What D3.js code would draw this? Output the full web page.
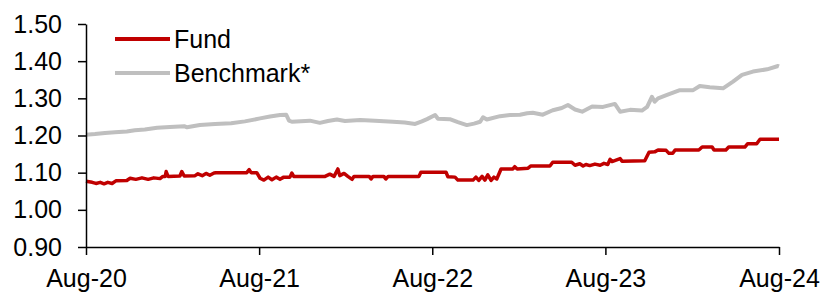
<!DOCTYPE html>
<html>
<head>
<meta charset="utf-8">
<title>Fund vs Benchmark</title>
<script src="https://cdn.jsdelivr.net/npm/d3@7"></script>
<style>
  body { margin: 0; background: #fff; }
  svg text { font-family: "Liberation Sans", Arial, sans-serif; fill: #000; }
</style>
</head>
<body>
<div id="chart"></div>
<script>
// series
var fundDates = ["2020-08-31","2020-09-13","2020-09-21","2020-09-30","2020-10-08","2020-10-16","2020-10-25","2020-11-02","2020-11-25","2020-12-02","2020-12-14","2020-12-27","2021-01-09","2021-01-21","2021-02-03","2021-02-09","2021-02-14","2021-02-16","2021-02-20","2021-03-17","2021-03-21","2021-03-26","2021-04-18","2021-04-24","2021-05-03","2021-05-11","2021-05-19","2021-05-28","2021-06-01","2021-08-05","2021-08-10","2021-08-14","2021-08-26","2021-09-02","2021-09-10","2021-09-19","2021-09-27","2021-10-06","2021-10-14","2021-10-22","2021-11-04","2021-11-08","2021-11-12","2022-01-17","2022-01-27","2022-02-05","2022-02-13","2022-02-17","2022-02-26","2022-03-06","2022-03-15","2022-03-19","2022-04-20","2022-04-24","2022-04-28","2022-05-21","2022-05-25","2022-05-30","2022-08-03","2022-08-07","2022-09-29","2022-10-03","2022-10-18","2022-10-24","2022-11-25","2022-12-01","2022-12-07","2022-12-14","2022-12-20","2022-12-26","2023-01-02","2023-01-08","2023-01-14","2023-01-23","2023-02-17","2023-02-21","2023-02-26","2023-03-21","2023-03-27","2023-05-06","2023-05-12","2023-06-21","2023-06-28","2023-07-08","2023-07-15","2023-07-21","2023-07-29","2023-08-09","2023-08-20","2023-08-28","2023-09-05","2023-09-10","2023-09-14","2023-10-01","2023-10-05","2023-11-22","2023-12-01","2023-12-13","2023-12-20","2024-01-06","2024-01-12","2024-01-20","2024-01-25","2024-03-15","2024-03-22","2024-04-12","2024-04-16","2024-05-11","2024-05-17","2024-06-20","2024-06-26","2024-07-15","2024-07-22","2024-08-31"];
var fundValues = [1.077,1.074,1.071,1.074,1.070,1.074,1.071,1.078,1.079,1.085,1.082,1.086,1.082,1.086,1.084,1.090,1.090,1.103,1.090,1.091,1.103,1.091,1.092,1.097,1.092,1.098,1.093,1.099,1.100,1.100,1.108,1.100,1.100,1.085,1.080,1.088,1.081,1.088,1.082,1.088,1.088,1.099,1.090,1.090,1.096,1.090,1.110,1.092,1.098,1.090,1.082,1.090,1.090,1.083,1.090,1.090,1.083,1.090,1.090,1.101,1.101,1.089,1.088,1.080,1.080,1.088,1.079,1.090,1.080,1.094,1.079,1.088,1.083,1.110,1.110,1.116,1.110,1.112,1.118,1.118,1.128,1.128,1.120,1.124,1.118,1.122,1.119,1.123,1.120,1.125,1.122,1.136,1.130,1.138,1.131,1.132,1.155,1.156,1.161,1.160,1.152,1.152,1.161,1.161,1.169,1.169,1.161,1.161,1.169,1.169,1.178,1.178,1.190,1.190];

var benchDates = ["2020-08-31","2020-09-19","2020-10-10","2020-10-31","2020-11-25","2020-12-12","2021-01-02","2021-01-28","2021-02-24","2021-03-26","2021-04-01","2021-04-28","2021-05-30","2021-07-03","2021-08-01","2021-09-02","2021-09-23","2021-10-14","2021-10-27","2021-11-02","2021-11-08","2021-12-16","2022-01-06","2022-01-23","2022-02-11","2022-02-28","2022-04-01","2022-05-02","2022-06-09","2022-07-04","2022-07-26","2022-08-09","2022-08-20","2022-09-06","2022-09-12","2022-10-07","2022-10-24","2022-11-12","2022-11-27","2022-12-10","2022-12-16","2022-12-24","2023-01-21","2023-02-11","2023-03-04","2023-03-19","2023-03-31","2023-04-21","2023-05-12","2023-05-31","2023-06-13","2023-06-28","2023-07-13","2023-08-03","2023-08-26","2023-09-20","2023-10-01","2023-10-22","2023-11-16","2023-11-27","2023-12-07","2023-12-13","2023-12-20","2024-01-08","2024-02-04","2024-03-03","2024-03-17","2024-04-07","2024-05-05","2024-05-26","2024-06-14","2024-07-07","2024-08-06","2024-08-29","2024-08-31"];
var benchValues = [1.202,1.204,1.207,1.209,1.211,1.214,1.216,1.221,1.223,1.225,1.222,1.228,1.231,1.233,1.238,1.246,1.251,1.255,1.256,1.240,1.237,1.240,1.234,1.239,1.243,1.239,1.242,1.240,1.237,1.235,1.231,1.238,1.244,1.255,1.245,1.244,1.236,1.228,1.232,1.237,1.249,1.243,1.252,1.255,1.256,1.260,1.261,1.256,1.268,1.274,1.282,1.270,1.264,1.278,1.277,1.285,1.264,1.269,1.267,1.277,1.304,1.291,1.300,1.309,1.322,1.322,1.333,1.330,1.327,1.345,1.363,1.372,1.378,1.387,1.386];

var yTicks = [0.90, 1.00, 1.10, 1.20, 1.30, 1.40, 1.50];
var xTickDates = ["2020-08-31","2021-08-31","2022-08-31","2023-08-31","2024-08-31"];
var seriesNames = ["Fund", "Benchmark*"];
var seriesColors = ["#c00000", "#bfbfbf"];

var width = 825, height = 292;
var margin = {top: 24, right: 46, bottom: 45, left: 86};

var parse = d3.timeParse("%Y-%m-%d");

var svg = d3.select("#chart").append("svg")
    .attr("width", width)
    .attr("height", height);

var x = d3.scaleTime()
    .domain([parse(xTickDates[0]), parse(xTickDates[xTickDates.length - 1])])
    .range([margin.left, width - margin.right]);

var y = d3.scaleLinear()
    .domain([0.9, 1.5])
    .range([height - margin.bottom, margin.top]);

var line = d3.line()
    .x(function (d) { return x(d.date); })
    .y(function (d) { return y(d.value); });

function zip(dates, values) {
  return dates.map(function (s, i) { return {date: parse(s), value: values[i]}; });
}

var series = [zip(fundDates, fundValues), zip(benchDates, benchValues)];

// grey first so the red sits on top
[1, 0].forEach(function (i) {
  svg.append("path")
      .datum(series[i])
      .attr("fill", "none")
      .attr("stroke", seriesColors[i])
      .attr("stroke-width", i === 0 ? 3.5 : 4)
      .attr("stroke-linejoin", "round")
      .attr("d", line);
});

// axes
var yAxis = svg.append("g")
    .attr("transform", "translate(" + margin.left + ",0)")
    .call(d3.axisLeft(y).tickValues(yTicks).tickFormat(d3.format(".2f"))
      .tickSize(8).tickPadding(16).tickSizeOuter(0));

var xAxis = svg.append("g")
    .attr("transform", "translate(0," + (height - margin.bottom) + ")")
    .call(d3.axisBottom(x).tickValues(xTickDates.map(parse))
      .tickFormat(d3.timeFormat("%b-%y")).tickSize(8).tickPadding(14).tickSizeOuter(0));

[yAxis, xAxis].forEach(function (g) {
  g.selectAll("path, line").attr("stroke", "#000").attr("stroke-width", 1.5);
  g.selectAll("text").style("font-size", "25px").attr("fill", "#000");
});

// legend
var legend = svg.append("g");
seriesNames.forEach(function (name, i) {
  var ly = 39 + i * 34;
  legend.append("line")
      .attr("x1", 115).attr("x2", 170)
      .attr("y1", ly).attr("y2", ly)
      .attr("stroke", seriesColors[i])
      .attr("stroke-width", 4);
  legend.append("text")
      .attr("x", 174).attr("y", ly)
      .attr("dy", "0.35em")
      .style("font-size", "25px")
      .text(name);
});
</script>
</body>
</html>
